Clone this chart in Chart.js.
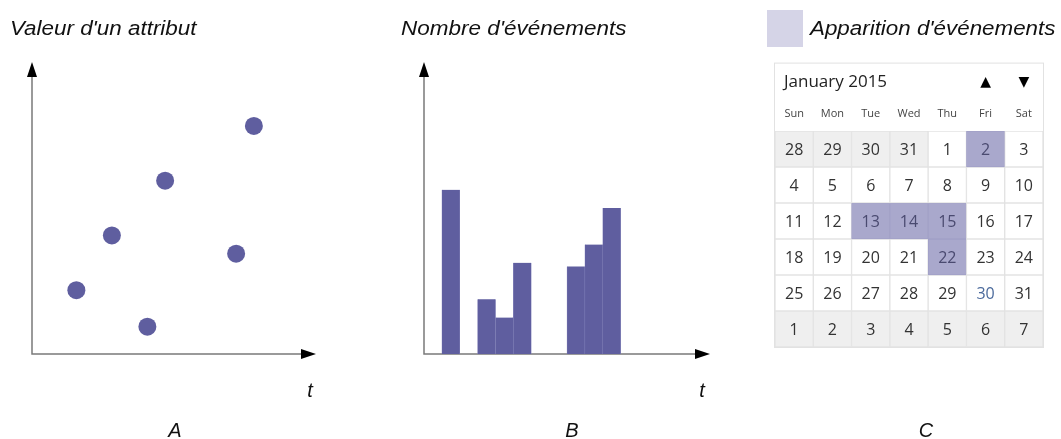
<!DOCTYPE html>
<html>
<head>
<meta charset="utf-8">
<script src="https://cdn.jsdelivr.net/npm/chart.js@4/dist/chart.umd.min.js"></script>
<style>
  html, body { margin: 0; padding: 0; background: #fff; }
  #wrap { position: relative; width: 1061px; height: 439px; overflow: hidden; }
  canvas { position: absolute; top: 0; }
  .lbl { position: absolute; font-family: "Liberation Sans", Arial, sans-serif; font-style: italic;
         font-size: 20px; color: #111; white-space: nowrap; line-height: 20px; }
  .fit { transform-origin: 0 50%; }
  .mid { transform: translate(-50%, -50%); }
  #legendBox { position: absolute; left: 767px; top: 10px; width: 36px; height: 37px; background: #d5d4e7; }
</style>
</head>
<body>
<div id="wrap">
  <canvas id="chartA" width="340" height="439" style="left:0"></canvas>
  <canvas id="chartB" width="345" height="439" style="left:380px"></canvas>
  <canvas id="chartC" width="301" height="439" style="left:760px"></canvas>

  <div class="lbl fit" data-w="187" style="left:10px;top:18px">Valeur d'un attribut</div>
  <div class="lbl fit" data-w="226" style="left:401px;top:18px">Nombre d'événements</div>
  <div id="legendBox"></div>
  <div class="lbl fit" data-w="246" style="left:810px;top:18px">Apparition d'événements</div>

  <div class="lbl mid" style="left:310px;top:390px">t</div>
  <div class="lbl mid" style="left:702px;top:390px">t</div>
  <div class="lbl mid" style="left:175px;top:430px">A</div>
  <div class="lbl mid" style="left:572px;top:430px">B</div>
  <div class="lbl mid" style="left:926px;top:430px">C</div>
</div>

<script>
// A : valeurs d'un attribut dans le temps
const scatterT = [2.5, 4.5, 6.5, 7.5, 11.5, 12.5];
const scatterValues = [3.5, 6.5, 1.5, 9.5, 5.5, 12.5];

// B : nombre d'événements par intervalle
const timeBins = ["1", "2", "3", "4", "5", "6", "7", "8", "9", "10", "11", "12", "13", "14", "15", "16"];
const eventCounts = [0, 9, 0, 3, 2, 5, 0, 0, 4.8, 6, 8, 0, 0, 0, 0, 0];

// C : calendrier
const monthTitle = "January 2015";
const weekDays = ["Sun", "Mon", "Tue", "Wed", "Thu", "Fri", "Sat"];
const calendarWeeks = [
  [28, 29, 30, 31, 1, 2, 3],
  [4, 5, 6, 7, 8, 9, 10],
  [11, 12, 13, 14, 15, 16, 17],
  [18, 19, 20, 21, 22, 23, 24],
  [25, 26, 27, 28, 29, 30, 31],
  [1, 2, 3, 4, 5, 6, 7]
];
const eventDays = [2, 13, 14, 15, 22];
const todayDay = 30;

const purple = "#5f5e9f";

function inMonth(row, day) {
  if (row === 0 && day > 7) return false;
  if (row >= 4 && day < 15) return false;
  return true;
}

function isEvent(row, day) {
  return inMonth(row, day) && eventDays.includes(day);
}

const arrowAxes = {
  id: "arrowAxes",
  beforeDatasetsDraw(chart) {
    const { ctx, chartArea: { left, right, top, bottom } } = chart;
    ctx.save();
    ctx.strokeStyle = "#7a7a7a";
    ctx.lineWidth = 1.5;
    ctx.beginPath();
    ctx.moveTo(left, top + 10);
    ctx.lineTo(left, bottom);
    ctx.lineTo(right - 10, bottom);
    ctx.stroke();
    ctx.fillStyle = "#000";
    ctx.beginPath();
    ctx.moveTo(left, top);
    ctx.lineTo(left - 5, top + 15);
    ctx.lineTo(left + 5, top + 15);
    ctx.closePath();
    ctx.fill();
    ctx.beginPath();
    ctx.moveTo(right, bottom);
    ctx.lineTo(right - 15, bottom - 5);
    ctx.lineTo(right - 15, bottom + 5);
    ctx.closePath();
    ctx.fill();
    ctx.restore();
  }
};

const baseOptions = {
  responsive: false,
  animation: false,
  devicePixelRatio: 1,
  plugins: { legend: { display: false }, tooltip: { enabled: false } }
};

new Chart(document.getElementById("chartA"), {
  type: "scatter",
  data: {
    datasets: [{
      data: scatterT.map((t, i) => ({ x: t, y: scatterValues[i] })),
      backgroundColor: purple,
      borderWidth: 0,
      pointRadius: 9,
      clip: false
    }]
  },
  options: {
    ...baseOptions,
    layout: { padding: { left: 32, right: 24, top: 62, bottom: 85 } },
    scales: {
      x: { type: "linear", min: 0, max: 16, display: false },
      y: { type: "linear", min: 0, max: 16, display: false }
    }
  },
  plugins: [arrowAxes]
});

new Chart(document.getElementById("chartB"), {
  type: "bar",
  data: {
    labels: timeBins,
    datasets: [{
      data: eventCounts,
      backgroundColor: purple,
      borderColor: "#8483b9",
      borderWidth: { left: 0.5, right: 0.5, top: 0, bottom: 0 },
      barPercentage: 1,
      categoryPercentage: 1
    }]
  },
  options: {
    ...baseOptions,
    layout: { padding: { left: 44, right: 15, top: 62, bottom: 85 } },
    scales: {
      x: { display: false },
      y: { min: 0, max: 16, display: false }
    }
  },
  plugins: [arrowAxes]
});

const calendarText = {
  id: "calendarText",
  beforeDatasetsDraw(chart) {
    const { ctx, chartArea, scales: { y } } = chart;
    const top = y.getPixelForValue(-1.9);
    ctx.save();
    ctx.fillStyle = "#fff";
    ctx.fillRect(chartArea.left, top, chartArea.right - chartArea.left, chartArea.bottom - top);
    ctx.strokeStyle = "#e2e2e2";
    ctx.lineWidth = 1;
    ctx.strokeRect(chartArea.left - 0.5, top + 0.5, chartArea.right - chartArea.left + 1, chartArea.bottom - top);
    ctx.restore();
  },
  afterDatasetsDraw(chart) {
    const { ctx, chartArea, scales: { x, y } } = chart;
    ctx.save();
    ctx.textAlign = "center";
    ctx.textBaseline = "middle";
    ctx.font = '16px "Open Sans", "Noto Sans", sans-serif';
    calendarWeeks.forEach((week, r) => {
      week.forEach((day, c) => {
        let color = "#333";
        if (isEvent(r, day)) color = "#4a4a70";
        else if (day === todayDay && inMonth(r, day)) color = "#4b6a9c";
        ctx.fillStyle = color;
        ctx.fillText(String(day), x.getPixelForValue(c), y.getPixelForValue(r + 0.5) + 1);
      });
    });
    ctx.font = '11px "Open Sans", "Noto Sans", sans-serif';
    ctx.fillStyle = "#444";
    weekDays.forEach((d, c) => ctx.fillText(d, x.getPixelForValue(c), y.getPixelForValue(-0.47)));
    ctx.font = '14px "DejaVu Sans", sans-serif';
    ctx.fillStyle = "#000";
    ctx.fillText("\u25B2", x.getPixelForValue(5), y.getPixelForValue(-1.36));
    ctx.fillText("\u25BC", x.getPixelForValue(6), y.getPixelForValue(-1.36));
    ctx.textAlign = "left";
    ctx.font = '17px "Open Sans", "Noto Sans", sans-serif';
    ctx.fillStyle = "#222";
    ctx.fillText(monthTitle, chartArea.left + 9, y.getPixelForValue(-1.36));
    ctx.restore();
  }
};

new Chart(document.getElementById("chartC"), {
  type: "bar",
  data: {
    labels: weekDays,
    datasets: calendarWeeks.map((week, r) => ({
      data: week.map(() => [r, r + 1]),
      backgroundColor: week.map(day => {
        if (!inMonth(r, day)) return "#efefef";
        return isEvent(r, day) ? "#a9a8cc" : "#fff";
      }),
      borderColor: week.map(day => isEvent(r, day) ? "#a2a1c7" : "#e3e3e3"),
      borderWidth: 1,
      borderSkipped: false,
      grouped: false,
      barPercentage: 1,
      categoryPercentage: 1
    }))
  },
  options: {
    ...baseOptions,
    layout: { padding: { left: 15, right: 18, top: 131, bottom: 92 } },
    scales: {
      x: { display: false },
      y: { type: "linear", min: 0, max: 6, reverse: true, display: false }
    }
  },
  plugins: [calendarText]
});

document.querySelectorAll(".fit").forEach(el => {
  const target = Number(el.dataset.w);
  el.style.transform = `scaleX(${target / el.offsetWidth})`;
});
</script>
</body>
</html>
